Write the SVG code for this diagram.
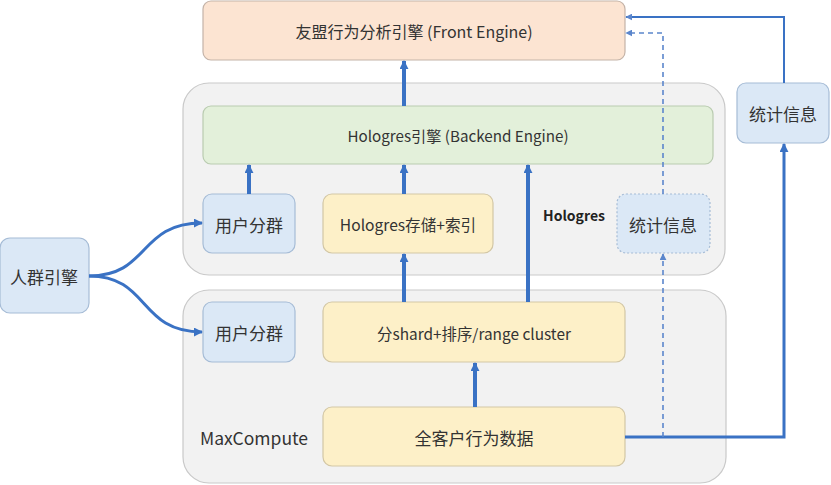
<svg xmlns="http://www.w3.org/2000/svg" width="831" height="485" viewBox="0 0 831 485">
<defs>
<style>
text{font-family:"Noto Sans CJK SC","Noto Sans",sans-serif;fill:#333;text-anchor:middle;dominant-baseline:central}
.cont{fill:#f2f2f2;stroke:#c9c9c9;stroke-width:1.2}
.blue{fill:#dbe8f6;stroke:#a6bcd6;stroke-width:1.2}
.blued{fill:#dbe8f6;stroke:#a6bcd6;stroke-width:1.2;stroke-dasharray:2 2}
.yel{fill:#fdf0c8;stroke:#d3c7a5;stroke-width:1.2}
.peach{fill:#fce4d2;stroke:#c4b3a8;stroke-width:1.2}
.green{fill:#e3f0da;stroke:#b9cbb0;stroke-width:1.2}
.thick{fill:none;stroke:#3a72c4;stroke-width:4}
.mid{fill:none;stroke:#3a72c4;stroke-width:3}
.thin{fill:none;stroke:#3a72c4;stroke-width:2}
.dash{fill:none;stroke:#5b86cc;stroke-width:1.6;stroke-dasharray:5 4}
.cn{font-size:17px}
</style>
<marker id="ah" viewBox="0 0 10 10" refX="9" refY="5" markerWidth="9" markerHeight="9" markerUnits="userSpaceOnUse" orient="auto">
<path d="M0,0 L10,5 L0,10 z" fill="#3a72c4"/>
</marker>
<marker id="ahs" viewBox="0 0 10 10" refX="9" refY="5" markerWidth="7" markerHeight="7" markerUnits="userSpaceOnUse" orient="auto">
<path d="M0,0 L10,5 L0,10 z" fill="#5b86cc"/>
</marker>
</defs>
<rect width="831" height="485" fill="#ffffff"/>

<g id="hologres-container">
<rect class="cont" x="183" y="83" width="542" height="192" rx="26"/>
<text x="574" y="215" style="font-weight:bold;font-size:14px;fill:#222">Hologres</text>
</g>
<g id="maxcompute-container">
<rect class="cont" x="183" y="290" width="543" height="193" rx="26"/>
<text x="254" y="437" style="font-size:17.5px">MaxCompute</text>
</g>

<g id="front-engine">
<rect class="peach" x="203" y="1" width="422" height="59" rx="8"/>
<text x="414" y="31" style="font-size:16px">友盟行为分析引擎 (Front Engine)</text>
</g>
<g id="backend-engine">
<rect class="green" x="203" y="106" width="510" height="58" rx="8"/>
<text x="458" y="135" style="font-size:15.2px">Hologres引擎 (Backend Engine)</text>
</g>
<g id="user-group-1">
<rect class="blue" x="203" y="194" width="92" height="59" rx="9"/>
<text class="cn" x="249" y="224">用户分群</text>
</g>
<g id="hologres-storage">
<rect class="yel" x="323" y="194" width="170" height="59" rx="9"/>
<text x="408" y="224" style="font-size:15.6px">Hologres存储+索引</text>
</g>
<g id="stats-inner">
<rect class="blued" x="617" y="194" width="93" height="59" rx="9"/>
<text class="cn" x="663" y="224">统计信息</text>
</g>
<g id="crowd-engine">
<rect class="blue" x="0" y="238" width="89" height="75" rx="10"/>
<text class="cn" x="44" y="276">人群引擎</text>
</g>
<g id="user-group-2">
<rect class="blue" x="203" y="302" width="92" height="60" rx="9"/>
<text class="cn" x="249" y="332">用户分群</text>
</g>
<g id="shard">
<rect class="yel" x="323" y="302" width="302" height="60" rx="9"/>
<text x="474" y="333" style="font-size:15.4px">分shard+排序/range cluster</text>
</g>
<g id="all-data">
<rect class="yel" x="323" y="407" width="302" height="59" rx="9"/>
<text class="cn" x="474" y="437">全客户行为数据</text>
</g>
<g id="stats-outer">
<rect class="blue" x="737" y="83" width="92" height="60" rx="9"/>
<text class="cn" x="783" y="113">统计信息</text>
</g>

<g id="connectors">
<path class="thick" d="M404,106 V61" marker-end="url(#ah)"/>
<path class="thick" d="M249,194 V165" marker-end="url(#ah)"/>
<path class="thick" d="M404,194 V165" marker-end="url(#ah)"/>
<path class="thick" d="M404,302 V254" marker-end="url(#ah)"/>
<path class="thick" d="M528,302 V165" marker-end="url(#ah)"/>
<path class="thick" d="M475,407 V363" marker-end="url(#ah)"/>
<path class="mid" d="M89,276 C150,276 138,223 202,223" marker-end="url(#ah)"/>
<path class="mid" d="M89,276 C150,276 138,332 202,332" marker-end="url(#ah)"/>
<path class="mid" d="M625,437 H784 V144" marker-end="url(#ah)"/>
<path class="thin" d="M784,83 V17 H626" marker-end="url(#ahs)"/>
<path class="dash" d="M663,437 V254" marker-end="url(#ahs)"/>
<path class="dash" d="M663,194 V33 H626" marker-end="url(#ahs)"/>
</g>
</svg>
